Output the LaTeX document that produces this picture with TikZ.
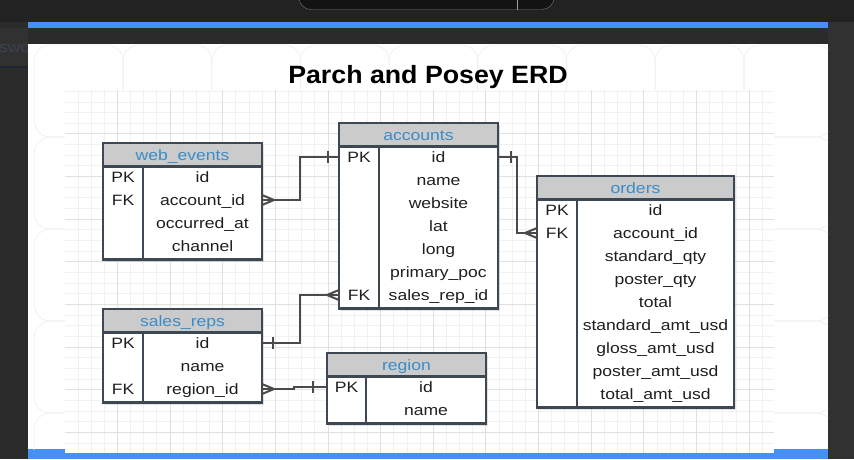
\documentclass[tikz,border=0pt]{standalone}
\usepackage{fontspec}
\setmainfont[FakeStretch=1.17]{Liberation Sans}
\newfontfamily\titlefont[FakeStretch=1.07]{Liberation Sans}
\usetikzlibrary{shadows}

\definecolor{topdark}{HTML}{222222}
\definecolor{pagedark}{HTML}{2B2B2B}
\definecolor{sidedark}{HTML}{313131}
\definecolor{barblue}{HTML}{4690F5}
\definecolor{tabblack}{HTML}{131313}
\definecolor{tabedge}{HTML}{7C7C7C}
\definecolor{navyline}{HTML}{1D2432}
\definecolor{sidetext}{HTML}{3C4250}
\definecolor{tileline}{HTML}{F0F0F0}
\definecolor{gridminor}{HTML}{F1F1F1}
\definecolor{gridmajor}{HTML}{E0E0E0}
\definecolor{tblborder}{HTML}{3E4852}
\definecolor{headgray}{HTML}{CBCBCB}
\definecolor{headblue}{HTML}{3A8DC9}
\definecolor{relgray}{HTML}{4A4A4A}

\tikzset{
  erdfont/.style={font=\fontsize{15}{18}\selectfont},
  tblhead/.style={draw=tblborder, fill=headgray, line width=2.5pt, anchor=north west,
    minimum height=23.5pt, inner sep=0pt, outer sep=0pt, text=headblue, erdfont,
    text height=10.7pt, text depth=0pt,
    drop shadow={opacity=0.22, shadow xshift=1.5pt, shadow yshift=-2pt}},
  tblbody/.style={draw=tblborder, fill=white, line width=2.5pt, anchor=north,
    inner sep=0pt, outer sep=0pt,
    drop shadow={opacity=0.22, shadow xshift=1.5pt, shadow yshift=-2pt}},
  tblline/.style={draw=tblborder, line width=2.5pt},
  field/.style={minimum height=23pt, inner sep=0pt, outer sep=0pt, erdfont,
    text height=10.7pt, text depth=0pt, text=black!88},
  key/.style={field, minimum width=40pt},
  rel/.style={draw=relgray, line width=2pt},
}

\begin{document}
\begin{tikzpicture}[x=1pt, y=-1pt]
  \useasboundingbox (0,0) rectangle (854,459);

  % window behind the dialog
  \fill[pagedark] (0,0) rectangle (854,459);
  \fill[topdark] (0,0) rectangle (854,22);
  \fill[sidedark] (828,22) rectangle (854,459);
  \fill[sidedark] (0,28) rectangle (28,66);
  \fill[navyline] (0,66) rectangle (28,68);
  \node[anchor=base west, erdfont, text=sidetext, inner sep=0pt] (side) at (-1,52) {swo};
  \fill[barblue] (28,22) rectangle (828,28);
  \draw[tabedge, fill=tabblack, rounded corners=12pt] (299,-20) rectangle (554,9.5);
  \draw[tabedge!70] (517,0) -- (517,9.5);

  % white panel with faint tiles
  \fill[white] (28,44) rectangle (828,459);
  \fill[barblue] (28,449) rectangle (828,459);
  \begin{scope}
    \clip (28,44) rectangle (828,449);
    \foreach \c in {0,...,8}
      \foreach \r in {0,...,4}
        \draw[tileline, line width=0.7pt, rounded corners=16pt]
          ({34.3+88.7*\c},{45+92*\r}) rectangle ++(88.7,92);
  \end{scope}

  % grid paper
  \begin{scope}
    \clip (65,90) rectangle (774,453);
    \fill[white] (65,90) rectangle (774,453);
    \foreach \k in {0,...,52}
      \draw[gridminor] ({77.7+13.16*\k},90) -- ++(0,363);
    \foreach \k in {-1,...,32}
      \draw[gridminor] (65,{101.7+10.66*\k}) -- ++(709,0);
    \foreach \k in {3,7,...,51}
      \draw[gridmajor] ({77.7+13.16*\k},90) -- ++(0,363);
    \foreach \k in {3,7,...,31}
      \draw[gridmajor] (65,{101.7+10.66*\k}) -- ++(709,0);
  \end{scope}

  \node[anchor=base, font=\fontsize{25}{30}\titlefont\bfseries, inner sep=0pt]
    (title) at (428,83) {Parch and Posey ERD};

  % web_events
  \begin{scope}[shift={(103,143)}]
    \node[tblhead, minimum width=159pt] (web) at (0,0) {web\_events};
    \node[tblbody, minimum width=159pt, minimum height=93pt] (web-body) at (web.south) {};
    \draw[tblline] (40,23.5) -- (40,116.5);
    \foreach \f [count=\i] in {id,account\_id,occurred\_at,channel}
      \node[field, minimum width=119pt] (web-\i) at (99.5,{11+23*\i}) {\f};
    \node[key] (web-pk) at (20,34) {PK};
    \node[key] (web-fk) at (20,57) {FK};
  \end{scope}

  % accounts
  \begin{scope}[shift={(339,123)}]
    \node[tblhead, minimum width=159pt] (acc) at (0,0) {accounts};
    \node[tblbody, minimum width=159pt, minimum height=162pt] (acc-body) at (acc.south) {};
    \draw[tblline] (40,23.5) -- (40,185.5);
    \foreach \f [count=\i] in {id,name,website,lat,long,primary\_poc,sales\_rep\_id}
      \node[field, minimum width=119pt] (acc-\i) at (99.5,{11+23*\i}) {\f};
    \node[key] (acc-pk) at (20,34) {PK};
    \node[key] (acc-fk) at (20,172) {FK};
  \end{scope}

  % orders
  \begin{scope}[shift={(537,176)}]
    \node[tblhead, minimum width=197pt] (ord) at (0,0) {orders};
    \node[tblbody, minimum width=197pt, minimum height=208pt] (ord-body) at (ord.south) {};
    \draw[tblline] (40,23.5) -- (40,231.5);
    \foreach \f [count=\i] in {id,account\_id,standard\_qty,poster\_qty,total,
        standard\_amt\_usd,gloss\_amt\_usd,poster\_amt\_usd,total\_amt\_usd}
      \node[field, minimum width=157pt] (ord-\i) at (118.5,{11+23*\i}) {\f};
    \node[key] (ord-pk) at (20,34) {PK};
    \node[key] (ord-fk) at (20,57) {FK};
  \end{scope}

  % sales_reps
  \begin{scope}[shift={(103,309)}]
    \node[tblhead, minimum width=159pt] (sal) at (0,0) {sales\_reps};
    \node[tblbody, minimum width=159pt, minimum height=70pt] (sal-body) at (sal.south) {};
    \draw[tblline] (40,23.5) -- (40,93.5);
    \foreach \f [count=\i] in {id,name,region\_id}
      \node[field, minimum width=119pt] (sal-\i) at (99.5,{11+23*\i}) {\f};
    \node[key] (sal-pk) at (20,34) {PK};
    \node[key] (sal-fk) at (20,80) {FK};
  \end{scope}

  % region
  \begin{scope}[shift={(327,353)}]
    \node[tblhead, minimum width=159pt] (reg) at (0,0) {region};
    \node[tblbody, minimum width=159pt, minimum height=47pt] (reg-body) at (reg.south) {};
    \draw[tblline] (39,23.5) -- (39,70.5);
    \foreach \f [count=\i] in {id,name}
      \node[field, minimum width=120pt] (reg-\i) at (99,{11+23*\i}) {\f};
    \node[key, minimum width=39pt] (reg-pk) at (19.5,34) {PK};
  \end{scope}

  % relations: many side gets the crow's foot, one side the bar
  \draw[rel] (web-2.east) -- ++(38,0) |- (acc-pk.west);
  \draw[rel] (web-2.east) ++(0,-5) -- ++(12,5) -- ++(-12,5);
  \draw[rel] (acc-pk.west) ++(-11,-6) -- ++(0,12);

  \draw[rel] (acc-1.east) -- ++(19,0) |- (ord-fk.west);
  \draw[rel] (acc-1.east) ++(13,-6) -- ++(0,12);
  \draw[rel] (ord-fk.west) ++(0,-5) -- ++(-12,5) -- ++(12,5);

  \draw[rel] (sal-1.east) -- ++(38,0) |- (acc-fk.west);
  \draw[rel] (sal-1.east) ++(11,-6) -- ++(0,12);
  \draw[rel] (acc-fk.west) ++(0,-5) -- ++(-12,5) -- ++(12,5);

  \draw[rel] (sal-3.east) -- ++(32,0) |- (reg-pk.west);
  \draw[rel] (sal-3.east) ++(0,-5) -- ++(12,5) -- ++(-12,5);
  \draw[rel] (reg-pk.west) ++(-14,-6) -- ++(0,12);
\end{tikzpicture}
\end{document}
